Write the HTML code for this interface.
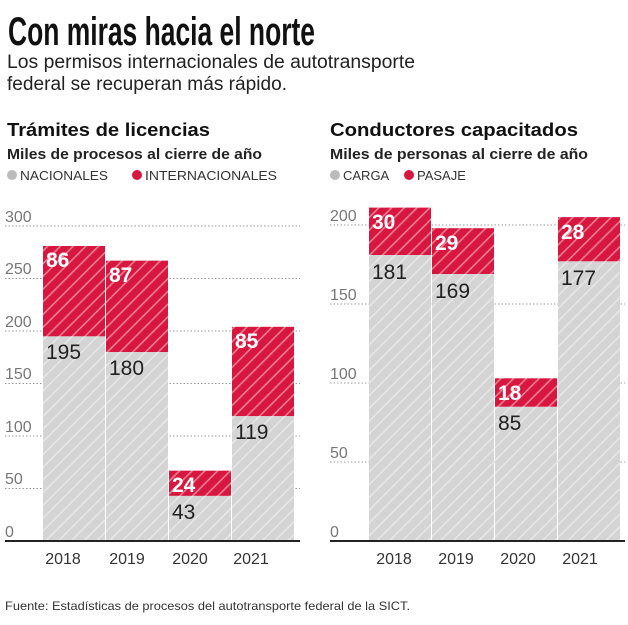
<!DOCTYPE html>
<html><head><meta charset="utf-8"><style>
body{margin:0;background:#fff;width:628px;height:620px;overflow:hidden}
svg text{font-family:"Liberation Sans",sans-serif}
</style></head><body>
<svg width="628" height="620" viewBox="0 0 628 620" xmlns="http://www.w3.org/2000/svg">
<defs>
<pattern id="hg" patternUnits="userSpaceOnUse" width="9" height="9" patternTransform="rotate(45)">
<rect width="9" height="9" fill="#d4d4d4"/><rect x="0" y="0" width="1.6" height="9" fill="#e6e6e6"/></pattern>
<pattern id="hr" patternUnits="userSpaceOnUse" width="9" height="9" patternTransform="rotate(45)">
<rect width="9" height="9" fill="#d7173f"/><rect x="0" y="0" width="1.6" height="9" fill="#ee7d92"/></pattern>
</defs>
<text x="8" y="45" font-size="40" font-weight="bold" textLength="307" lengthAdjust="spacingAndGlyphs" style="font-family:'Liberation Sans Narrow','Liberation Sans',sans-serif" fill="#111">Con miras hacia el norte</text>
<text x="7" y="68" font-size="19" fill="#222" textLength="408" lengthAdjust="spacingAndGlyphs">Los permisos internacionales de autotransporte</text>
<text x="7" y="90" font-size="19" fill="#222" textLength="280" lengthAdjust="spacingAndGlyphs">federal se recuperan más rápido.</text>

<text x="7" y="136" font-size="18" font-weight="bold" fill="#111" textLength="203" lengthAdjust="spacingAndGlyphs">Trámites de licencias</text>
<text x="7" y="159" font-size="15" font-weight="bold" fill="#222" textLength="255" lengthAdjust="spacingAndGlyphs">Miles de procesos al cierre de año</text>
<circle cx="12" cy="175" r="5" fill="#bbb"/><text x="20" y="180" font-size="13" fill="#333" textLength="88" lengthAdjust="spacingAndGlyphs">NACIONALES</text>
<circle cx="137" cy="175" r="5" fill="#d7173f"/><text x="145" y="180" font-size="13" fill="#333" textLength="132" lengthAdjust="spacingAndGlyphs">INTERNACIONALES</text>

<text x="330" y="136" font-size="18" font-weight="bold" fill="#111" textLength="248" lengthAdjust="spacingAndGlyphs">Conductores capacitados</text>
<text x="330" y="159" font-size="15" font-weight="bold" fill="#222" textLength="258" lengthAdjust="spacingAndGlyphs">Miles de personas al cierre de año</text>
<circle cx="335" cy="175" r="5" fill="#bbb"/><text x="343" y="180" font-size="13" fill="#333">CARGA</text>
<circle cx="409" cy="175" r="5" fill="#d7173f"/><text x="417" y="180" font-size="13" fill="#333">PASAJE</text>

<g stroke="#999" stroke-dasharray="1.5,2" stroke-width="1">
<line x1="5" y1="226" x2="300" y2="226"/><line x1="5" y1="278.5" x2="300" y2="278.5"/><line x1="5" y1="331" x2="300" y2="331"/><line x1="5" y1="383.5" x2="300" y2="383.5"/><line x1="5" y1="436" x2="300" y2="436"/><line x1="5" y1="488.5" x2="300" y2="488.5"/>
<line x1="330" y1="225" x2="625" y2="225"/><line x1="330" y1="304" x2="625" y2="304"/><line x1="330" y1="383" x2="625" y2="383"/><line x1="330" y1="462" x2="625" y2="462"/>
</g>
<g font-size="16" fill="#777">
<text x="5" y="222">300</text><text x="5" y="274">250</text><text x="5" y="327">200</text><text x="5" y="379">150</text><text x="5" y="432">100</text><text x="5" y="484">50</text><text x="5" y="537">0</text>
<text x="330" y="221">200</text><text x="330" y="300">150</text><text x="330" y="379">100</text><text x="330" y="458">50</text><text x="330" y="537">0</text>
</g>
<g>
<rect x="43" y="336.25" width="62" height="204.75" fill="url(#hg)"/><rect x="43" y="246" width="62" height="90.3" fill="url(#hr)"/>
<rect x="106" y="352" width="62" height="189" fill="url(#hg)"/><rect x="106" y="260.65" width="62" height="91.35" fill="url(#hr)"/>
<rect x="169" y="495.85" width="62" height="45.15" fill="url(#hg)"/><rect x="169" y="470.65" width="62" height="25.2" fill="url(#hr)"/>
<rect x="232" y="416.05" width="62" height="124.95" fill="url(#hg)"/><rect x="232" y="326.8" width="62" height="89.25" fill="url(#hr)"/>
</g>
<g font-size="21" font-weight="bold" fill="#fff">
<text x="46" y="267">86</text><text x="109" y="282">87</text><text x="172" y="492">24</text><text x="235" y="348">85</text>
</g>
<g font-size="21" fill="#222">
<text x="46" y="359">195</text><text x="109" y="375">180</text><text x="172" y="519">43</text><text x="235" y="439">119</text>
</g>
<g>
<rect x="369" y="255" width="62" height="286" fill="url(#hg)"/><rect x="369" y="207.6" width="62" height="47.4" fill="url(#hr)"/>
<rect x="432" y="274" width="62" height="267" fill="url(#hg)"/><rect x="432" y="228.2" width="62" height="45.8" fill="url(#hr)"/>
<rect x="495" y="406.7" width="62" height="134.3" fill="url(#hg)"/><rect x="495" y="378.3" width="62" height="28.4" fill="url(#hr)"/>
<rect x="558" y="261.3" width="62" height="279.7" fill="url(#hg)"/><rect x="558" y="217.1" width="62" height="44.2" fill="url(#hr)"/>
</g>
<g font-size="21" font-weight="bold" fill="#fff">
<text x="372" y="229">30</text><text x="435" y="250">29</text><text x="498" y="400">18</text><text x="561" y="239">28</text>
</g>
<g font-size="21" fill="#222">
<text x="372" y="279">181</text><text x="435" y="298">169</text><text x="498" y="430">85</text><text x="561" y="285">177</text>
</g>
<line x1="5" y1="541" x2="300" y2="541" stroke="#222" stroke-width="2"/>
<line x1="330" y1="541" x2="625" y2="541" stroke="#222" stroke-width="2"/>
<g font-size="16" fill="#333" text-anchor="middle">
<text x="63" y="564">2018</text><text x="127" y="564">2019</text><text x="190" y="564">2020</text><text x="251" y="564">2021</text>
<text x="394" y="564">2018</text><text x="456" y="564">2019</text><text x="518" y="564">2020</text><text x="580" y="564">2021</text>
</g>
<text x="5" y="610" font-size="12" fill="#333" textLength="405" lengthAdjust="spacingAndGlyphs">Fuente: Estadísticas de procesos del autotransporte federal de la SICT.</text>
</svg>
</body></html>
